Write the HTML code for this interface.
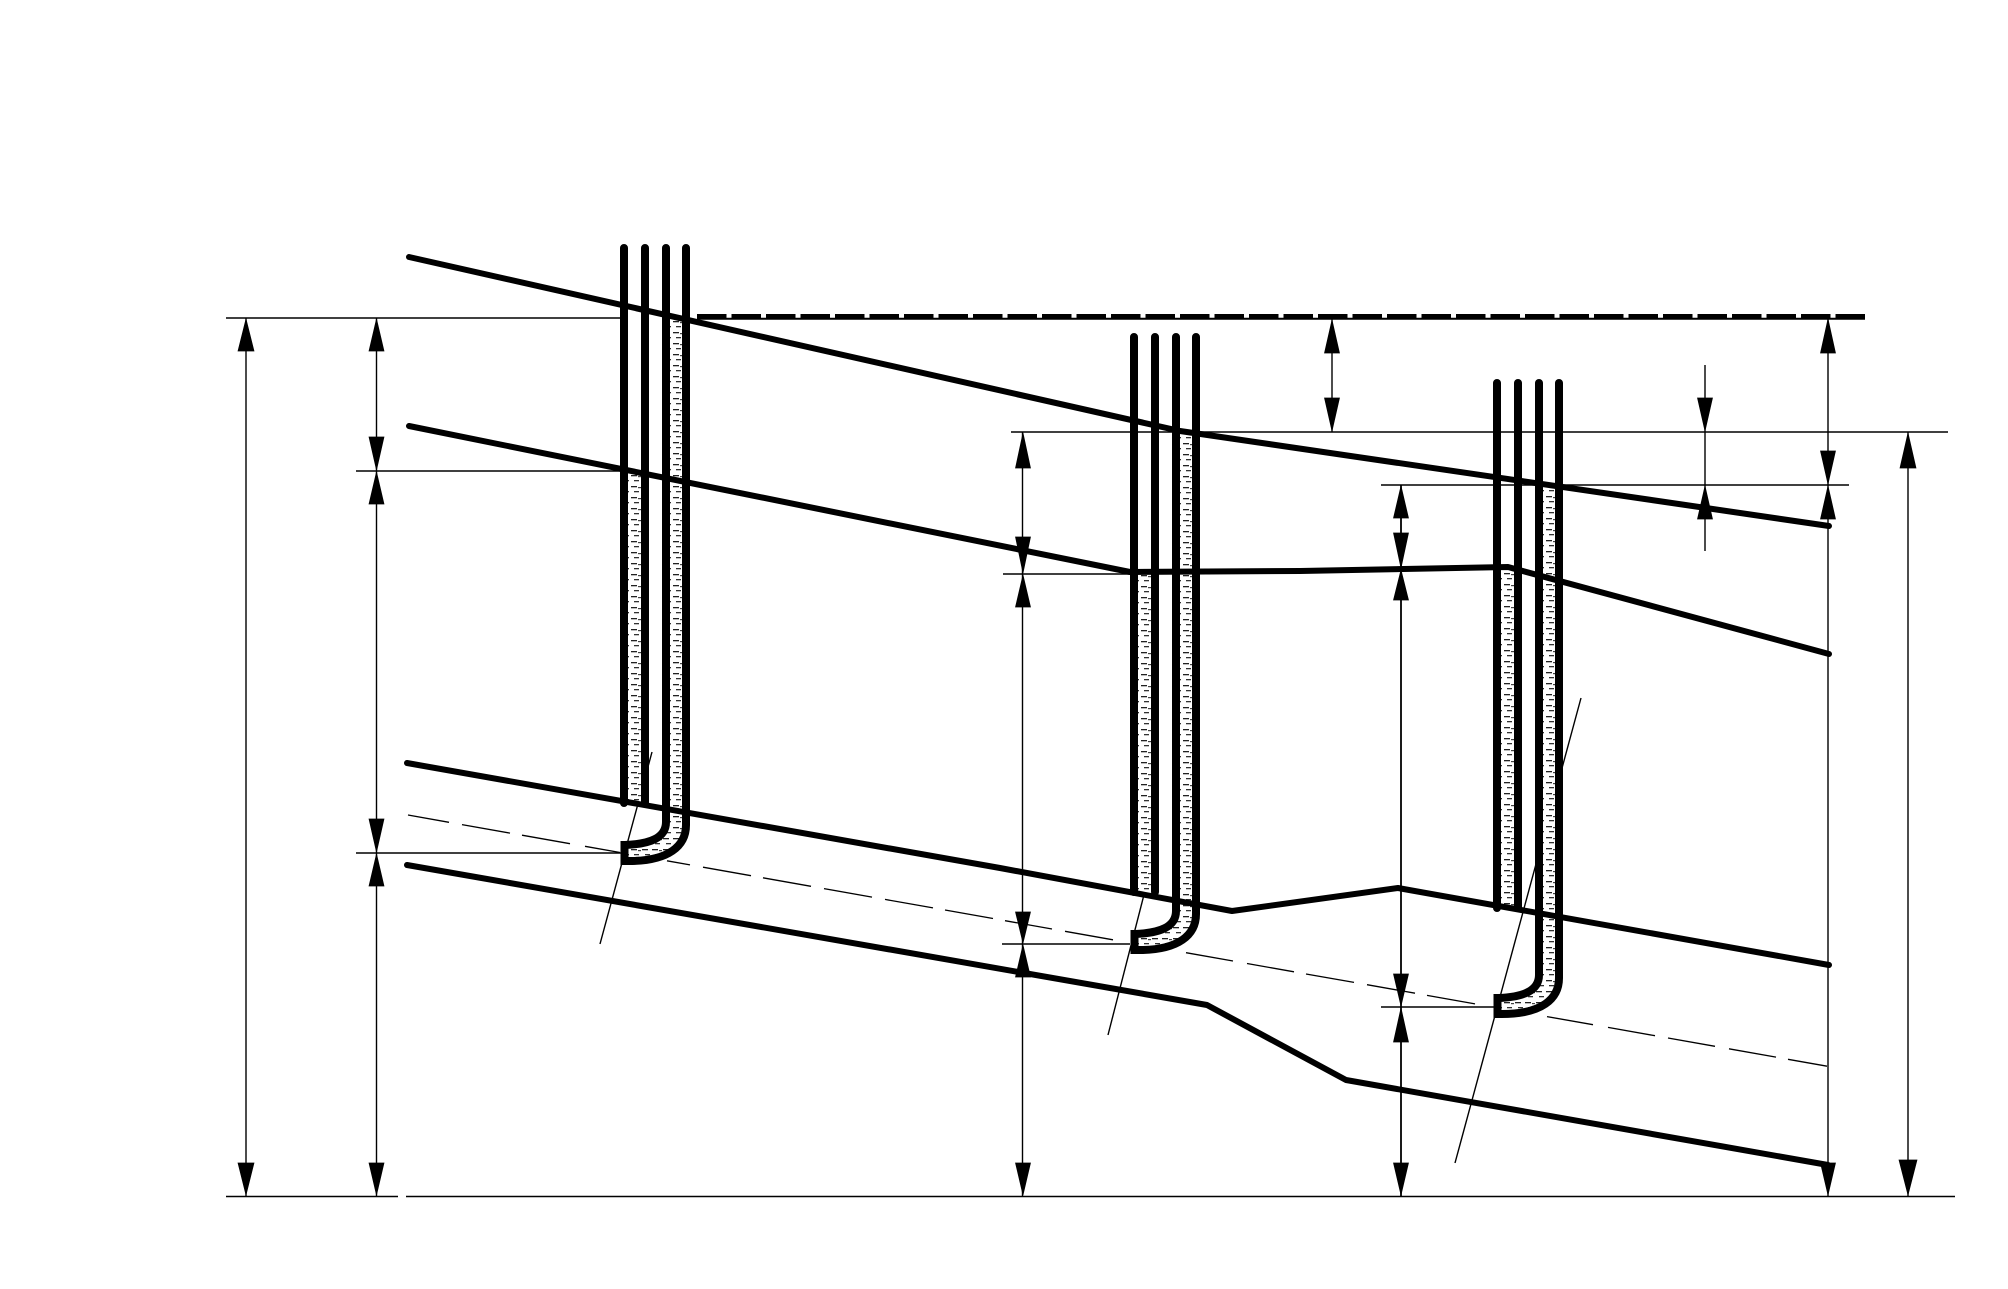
<!DOCTYPE html>
<html><head><meta charset="utf-8"><style>
html,body{margin:0;padding:0;background:#fff}
svg{display:block}
</style></head><body>
<svg xmlns="http://www.w3.org/2000/svg" width="2008" height="1289" viewBox="0 0 2008 1289">
<defs>
<pattern id="p" patternUnits="userSpaceOnUse" width="21" height="11">
<rect width="21" height="11" fill="#fff"/>
<rect x="1" y="2" width="6" height="1.3" fill="#222"/>
<rect x="4" y="7" width="5" height="1.3" fill="#333"/>
<rect x="8" y="3" width="3" height="1.2" fill="#444"/>
<rect x="12" y="2" width="6" height="1.3" fill="#222"/>
<rect x="15" y="7" width="5" height="1.3" fill="#333"/>
</pattern>
</defs>
<rect width="2008" height="1289" fill="#fff"/>

<!-- thin horizontal lines -->
<g stroke="#000" stroke-width="1.4" fill="none">
<path d="M226,318H625"/>
<path d="M697,318.7H1865" stroke-width="2"/>
<path d="M356,471H625"/>
<path d="M1011,432H1948"/>
<path d="M1381,485H1849"/>
<path d="M1003,574H1135"/>
<path d="M356,853H622"/>
<path d="M1002,944H1130"/>
<path d="M1381,1007H1494"/>
<path d="M226,1196.5H398"/>
<path d="M406,1196.5H1955"/>
<!-- vertical dimension lines -->
<path d="M246,318V1196"/>
<path d="M376.5,318V1196"/>
<path d="M1022.5,432V1196"/>
<path d="M1332,318V432"/>
<path d="M1401,485V1196" stroke-width="1.8"/>
<path d="M1705,365V551"/>
<path d="M1828,318V1196"/>
<path d="M1908,432V1196"/>
<!-- slanted thin lines -->
<path d="M652,752L600,944"/>
<path d="M1147,883L1108,1035"/>
<path d="M1581,698L1455,1163"/>
</g>

<!-- dashed thin centre line -->
<path stroke="#000" stroke-width="1.3" fill="none" d="M408,815L449,822.3M462,824.6L510,833.1M522,835.2L570,843.7M585,846.3L620,852.5M667,860.8L690,864.9M703,867.2L751,875.7M763,877.8L811,886.3M824,888.6L872,897.1M885,899.4L933,907.9M945,910L993,918.5M1005,920.7L1052,929M1065,931.3L1113,939.8M1186,952.7L1233,961M1247,963.5L1294,971.8M1306,974L1354,982.4M1367,984.7L1415,993.2M1427,995.4L1475,1003.9M1547,1016.6L1593,1024.7M1608,1027.4L1655,1035.7M1668,1038L1715,1046.3M1729,1048.8L1776,1057.1M1788,1059.3L1827,1066.2"/>

<!-- thick dashed datum -->
<path d="M697,316.5H1865" stroke="#000" stroke-width="5" stroke-dasharray="29.5 5" fill="none"/>

<!-- pipe fills -->
<g fill="url(#p)">
<g>
<rect x="624" y="471" width="21" height="332"/>
<path d="M666,318V822C666,838 650,844 625,845V861C670,862 686,845 686,825V318Z"/>
</g>
<g transform="translate(510,89)">
<rect x="624" y="484" width="21" height="319"/>
<path d="M666,344V822C666,838 650,844 625,845V861C670,862 686,845 686,825V344Z"/>
</g>
<g transform="translate(873,153)">
<rect x="624" y="419" width="21" height="336"/>
<path d="M666,335V822C666,838 650,844 625,845V861C670,862 686,845 686,825V335Z"/>
</g>
</g>

<!-- thick main lines -->
<g stroke="#000" stroke-width="6" fill="none" stroke-linecap="round" stroke-linejoin="round">
<path d="M409,257L1180,431L1829,526"/>
<path d="M409,426L1130,572L1300,571L1508,567L1829,654"/>
<path d="M407,763L1000,868L1232,911L1398,888L1829,965"/>
<path d="M407,865L1207,1005L1346,1080L1828,1165"/>
</g>

<!-- pipe walls -->
<g stroke="#000" stroke-width="8" fill="none" stroke-linecap="round">
<g>
<path d="M624,248V803M645,248V803"/>
<path d="M666,248V822C666,838 650,844 625,845"/>
<path d="M686,248V825C686,845 670,862 625,861"/>
<path d="M624.5,845V861" stroke-linecap="square"/>
</g>
<g transform="translate(510,89)">
<path d="M624,248V803M645,248V803"/>
<path d="M666,248V822C666,838 650,844 625,845"/>
<path d="M686,248V825C686,845 670,862 625,861"/>
<path d="M624.5,845V861" stroke-linecap="square"/>
</g>
<g transform="translate(873,153)">
<path d="M624,230V755M645,230V755"/>
<path d="M666,230V822C666,838 650,844 625,845"/>
<path d="M686,230V825C686,845 670,862 625,861"/>
<path d="M624.5,845V861" stroke-linecap="square"/>
</g>
</g>

<!-- arrowheads -->
<g fill="#000" stroke="#000" stroke-width="0.7">
<!-- x=246 -->
<polygon points="246,319 238,351 254,351"/>
<polygon points="246,1195 238,1163 254,1163"/>
<!-- x=376.5 -->
<polygon points="376.5,319 369,351 384,351"/>
<polygon points="376.5,470 369,437 384,437"/>
<polygon points="376.5,472 369,504 384,504"/>
<polygon points="376.5,852 369,819 384,819"/>
<polygon points="376.5,854 369,886 384,886"/>
<polygon points="376.5,1195 369,1163 384,1163"/>
<!-- x=1023 -->
<polygon points="1023,433 1015.5,468 1030.5,468"/>
<polygon points="1023,573 1015.5,537 1030.5,537"/>
<polygon points="1023,575 1015.5,607 1030.5,607"/>
<polygon points="1023,943 1015.5,912 1030.5,912"/>
<polygon points="1023,945 1015.5,977 1030.5,977"/>
<polygon points="1023,1195 1015.5,1163 1030.5,1163"/>
<!-- x=1332 -->
<polygon points="1332,320 1324.5,353 1339.5,353"/>
<polygon points="1332,431 1324.5,398 1339.5,398"/>
<!-- x=1401 -->
<polygon points="1401,486 1393.5,518 1408.5,518"/>
<polygon points="1401,568 1393.5,533 1408.5,533"/>
<polygon points="1401,570 1393.5,600 1408.5,600"/>
<polygon points="1401,1006 1393.5,974 1408.5,974"/>
<polygon points="1401,1008 1393.5,1042 1408.5,1042"/>
<polygon points="1401,1195 1393.5,1163 1408.5,1163"/>
<!-- x=1705 -->
<polygon points="1705,431 1697.5,398 1712.5,398"/>
<polygon points="1705,486 1697.5,519 1712.5,519"/>
<!-- x=1828 -->
<polygon points="1828,319 1820.5,353 1835.5,353"/>
<polygon points="1828,484 1820.5,451 1835.5,451"/>
<polygon points="1828,486 1820.5,519 1835.5,519"/>
<polygon points="1828,1195 1820.5,1163 1835.5,1163"/>
<!-- x=1908 -->
<polygon points="1908,433 1900,468 1916,468"/>
<polygon points="1908,1195 1899,1160 1917,1160"/>
</g>
</svg>
</body></html>
